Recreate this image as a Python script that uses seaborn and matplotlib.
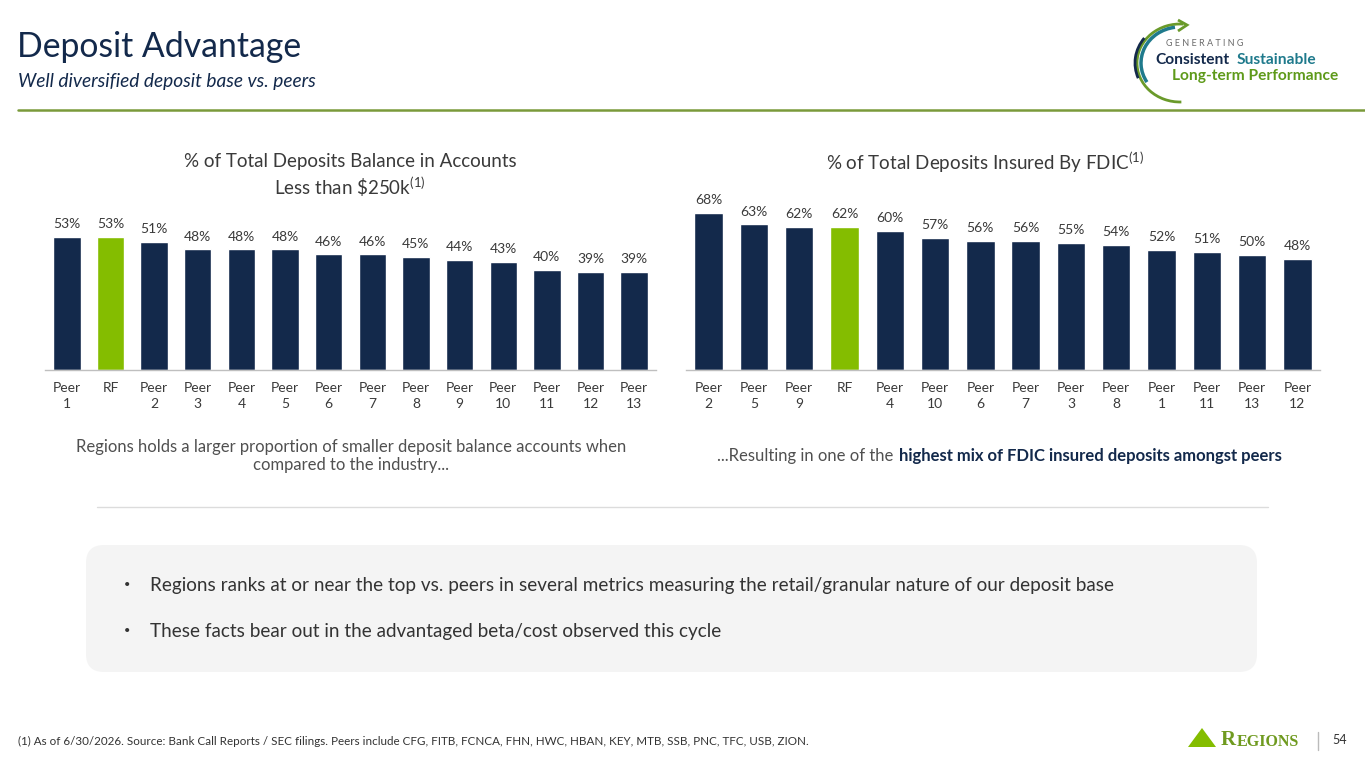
import matplotlib
matplotlib.use("Agg")
import matplotlib.pyplot as plt
import seaborn as sns
import pandas as pd
from matplotlib.patches import FancyBboxPatch, Arc, Polygon

# Dados
left_cats = ["Peer\n1", "RF", "Peer\n2", "Peer\n3", "Peer\n4", "Peer\n5", "Peer\n6",
             "Peer\n7", "Peer\n8", "Peer\n9", "Peer\n10", "Peer\n11", "Peer\n12", "Peer\n13"]
left_vals = [53, 53, 51, 48, 48, 48, 46, 46, 45, 44, 43, 40, 39, 39]

right_cats = ["Peer\n2", "Peer\n5", "Peer\n9", "RF", "Peer\n4", "Peer\n10", "Peer\n6",
              "Peer\n7", "Peer\n3", "Peer\n8", "Peer\n1", "Peer\n11", "Peer\n13", "Peer\n12"]
right_vals = [68, 63, 62, 62, 60, 57, 56, 56, 55, 54, 52, 51, 50, 48]

NAVY = "#13294b"
GREEN = "#84bd00"
TXT = "#3a3a3a"

sns.set_theme(style="white")
plt.rcParams["font.family"] = ["Lato", "DejaVu Sans"]
plt.rcParams["mathtext.fontset"] = "custom"
plt.rcParams["mathtext.rm"] = "Lato"
plt.rcParams["mathtext.it"] = "Lato:italic"
plt.rcParams["mathtext.bf"] = "Lato:bold"

fig = plt.figure(figsize=(13.65, 7.68), dpi=100)

# fundo em coordenadas de pixel
bg = fig.add_axes([0, 0, 1, 1], zorder=0)
bg.set_xlim(0, 1365)
bg.set_ylim(768, 0)
bg.axis("off")

# cabeçalho
bg.text(17, 47, "Deposit Advantage", fontsize=24.3, color=NAVY, va="center", ha="left")
bg.text(18, 82, "Well diversified deposit base vs. peers", fontsize=13.8, style="italic",
        color=NAVY, va="center", ha="left")
bg.plot([18, 1365], [110, 110], color="#7a9a3a", lw=1.8)

# logo superior direito
bg.add_patch(Arc((1180, 63), 86, 78, theta1=88, theta2=275, color="#6a9a2a", lw=2))
bg.add_patch(Polygon([[1178, 20], [1187, 25], [1178, 31]], closed=False, fill=False,
                     edgecolor="#6a9a2a", lw=2))
bg.add_patch(Arc((1180, 63), 78, 72, theta1=150, theta2=262, color="#1f7a8c", lw=2.5))
bg.add_patch(Arc((1180, 63), 90, 82, theta1=160, theta2=215, color=NAVY, lw=2))
bg.text(1166, 44, "G E N E R A T I N G", fontsize=6.5, color="#6b6b6b", va="center", ha="left")
bg.text(1155, 60, "Consistent", fontsize=11.2, weight="bold", color=NAVY, va="center", ha="left")
bg.text(1237, 60, "Sustainable", fontsize=11.2, weight="bold", color="#1f7a8c", va="center",
        ha="left")
bg.text(1172, 76, "Long-term Performance", fontsize=11.2, weight="bold", color="#5e9a1a",
        va="center", ha="left")

# títulos dos gráficos
bg.text(350, 176, "% of Total Deposits Balance in Accounts\nLess than \\$250k$^{(1)}$",
        fontsize=13.5, color=TXT, ha="center", va="center", linespacing=1.25)
bg.text(985, 162, "% of Total Deposits Insured By FDIC$^{(1)}$",
        fontsize=13.5, color=TXT, ha="center", va="center")

# legendas abaixo dos gráficos
bg.text(351, 456, "Regions holds a larger proportion of smaller deposit balance accounts when\n"
        "compared to the industry...", fontsize=12, color="#505050", ha="center", va="center",
        linespacing=1.2)
bg.text(898, 456, "...Resulting in one of the ", fontsize=12, color="#505050",
        ha="right", va="center")
bg.text(899, 456, "highest mix of FDIC insured deposits amongst peers", fontsize=12,
        weight="bold", color=NAVY, ha="left", va="center")

bg.plot([97, 1268], [507, 507], color="#dcdcdc", lw=1)

# caixa de destaques
bg.add_patch(FancyBboxPatch((100, 559), 1143, 99, boxstyle="round,pad=14,rounding_size=18",
                            facecolor="#f4f4f4", edgecolor="none"))
for yy, txt in [(585, "Regions ranks at or near the top vs. peers in several metrics measuring "
                 "the retail/granular nature of our deposit base"),
                (631, "These facts bear out in the advantaged beta/cost observed this cycle")]:
    bg.text(127, yy, "\u2022", fontsize=8, color="#333333", ha="center", va="center")
    bg.text(150, yy, txt, fontsize=13.6, color="#333333", ha="left", va="center")

# rodapé
bg.text(18, 741, "(1) As of 6/30/2026. Source: Bank Call Reports / SEC filings. Peers include CFG, "
        "FITB, FCNCA, FHN, HWC, HBAN, KEY, MTB, SSB, PNC, TFC, USB, ZION.",
        fontsize=8.4, color="#333333", ha="left", va="center")
bg.add_patch(Polygon([[1188, 747], [1202, 728], [1216, 747]], closed=True,
                     facecolor="#84bd00", edgecolor="none"))
bg.text(1221, 740, "R", fontsize=15, weight="bold", color="#6f9a1f", ha="left", va="center",
        family="Liberation Serif")
bg.text(1237, 741.5, "EGIONS", fontsize=11.5, weight="bold", color="#6f9a1f", ha="left",
        va="center", family="Liberation Serif")
bg.plot([1318, 1318], [732, 750], color="#bbbbbb", lw=1)
bg.text(1340, 740, "54", fontsize=9, color="#333333", ha="center", va="center")


def draw_bars(rect, cats, vals, ymax):
    ax = fig.add_axes(rect, zorder=2)
    ax.patch.set_alpha(0)
    df = pd.DataFrame({"cat": cats, "val": vals})
    pal = {c: (GREEN if c == "RF" else NAVY) for c in cats}
    sns.barplot(data=df, x="cat", y="val", hue="cat", palette=pal, legend=False,
                width=0.63, saturation=1, ax=ax)
    for cont in ax.containers:
        ax.bar_label(cont, fmt="%d%%", padding=5, fontsize=10, color=TXT)
    ax.set_ylim(0, ymax)
    ax.set_xlim(-0.5, len(cats) - 0.5)
    ax.set_xlabel("")
    ax.set_ylabel("")
    ax.set_yticks([])
    for s in ["top", "right", "left"]:
        ax.spines[s].set_visible(False)
    ax.spines["bottom"].set_color("#bfbfbf")
    ax.spines["bottom"].set_linewidth(1)
    ax.tick_params(axis="x", length=0, pad=9, labelsize=10, labelcolor=TXT)
    for lab in ax.get_xticklabels():
        lab.set_linespacing(1.35)
    return ax


draw_bars([45 / 1365, 1 - 370 / 768, 611 / 1365, 170 / 768], left_cats, left_vals, 67.7)
draw_bars([686 / 1365, 1 - 370 / 768, 634 / 1365, 170 / 768], right_cats, right_vals, 73.6)

fig.savefig("out.png", dpi=100)
